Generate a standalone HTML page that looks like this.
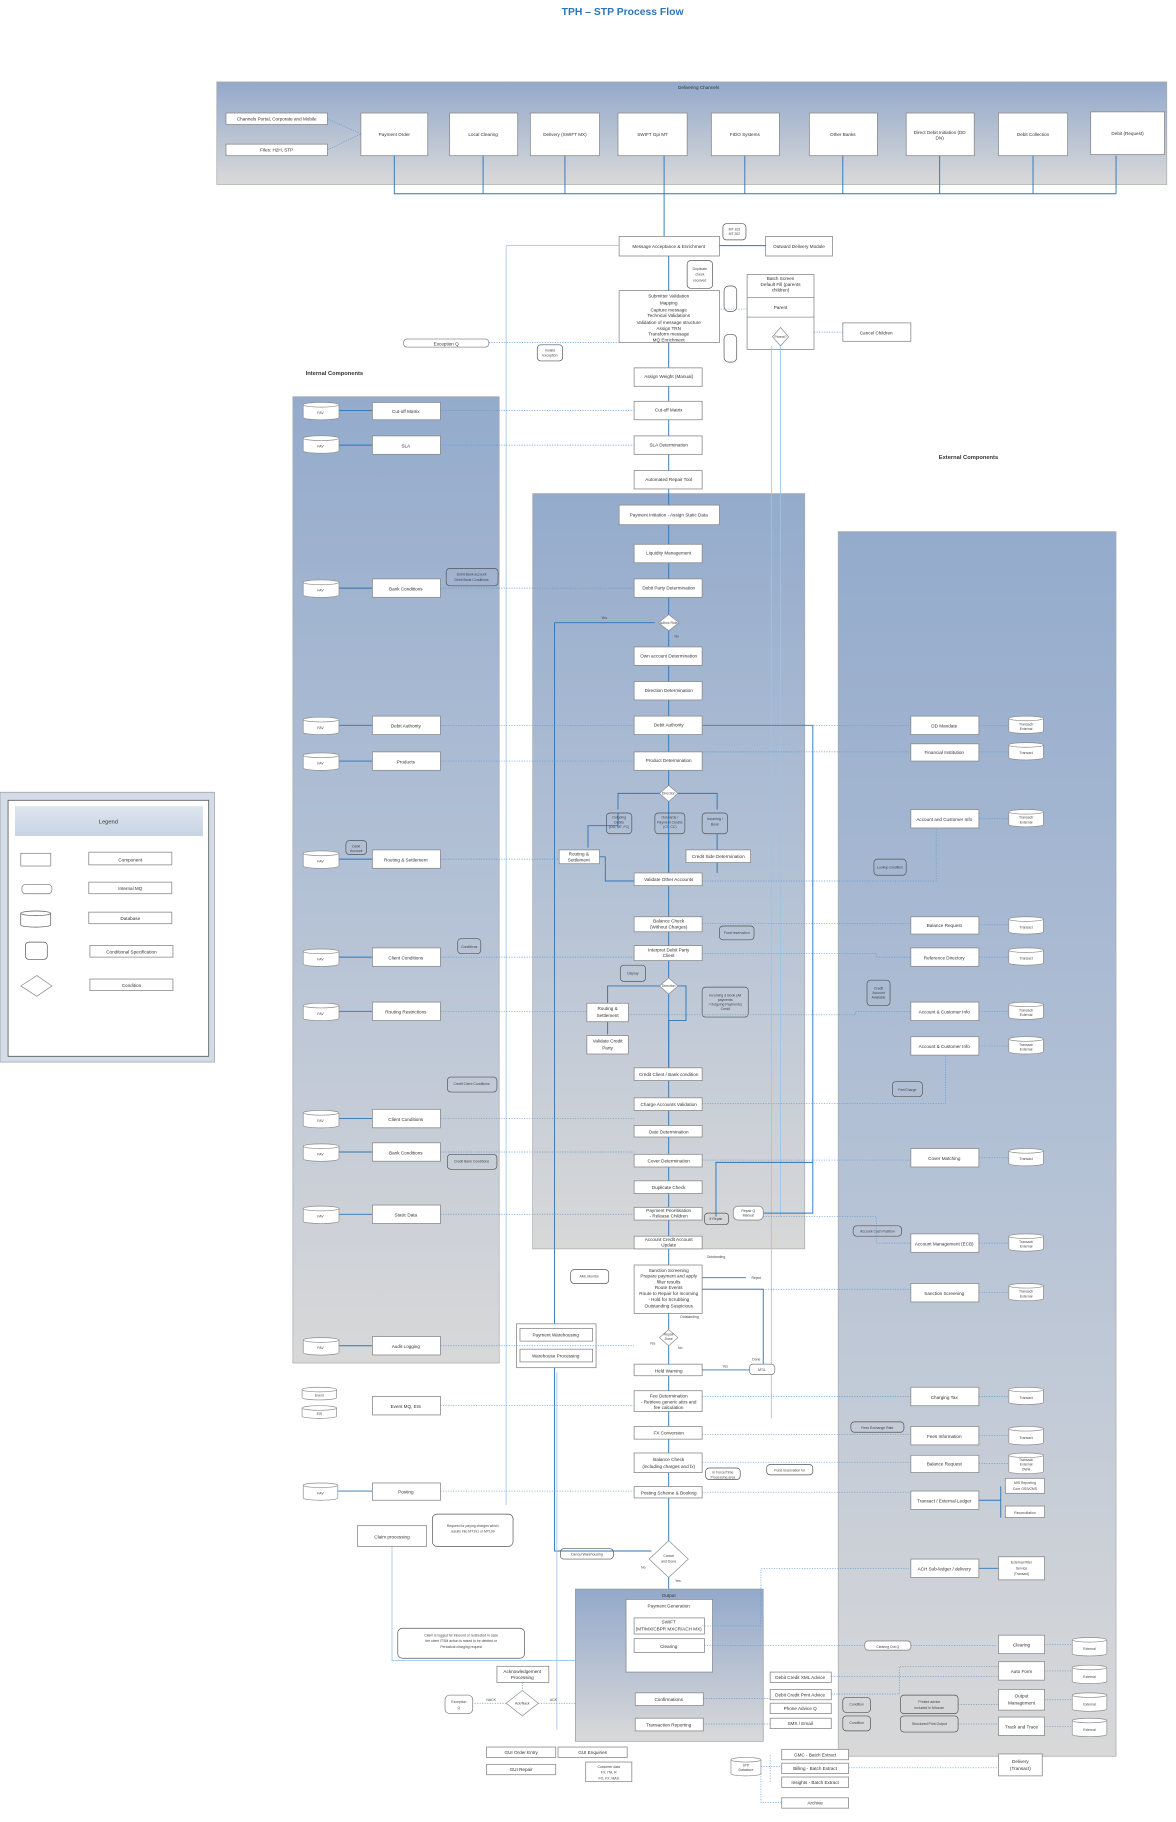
<!DOCTYPE html>
<html><head><meta charset="utf-8">
<style>
html,body{margin:0;padding:0;background:#fff;}
svg{display:block;}
.b{fill:#fff;stroke:#8c8c8c;stroke-width:0.7;}
.t{font-family:"Liberation Sans",sans-serif;font-size:4px;fill:#333;text-anchor:middle;}
.s{font-family:"Liberation Sans",sans-serif;font-size:3px;fill:#444;text-anchor:middle;}
.h{font-family:"Liberation Sans",sans-serif;font-size:5.5px;fill:#222;text-anchor:middle;font-weight:bold;}
.l{stroke:#2e75b6;stroke-width:0.8;fill:none;}
.lt{stroke:#9dc3e6;stroke-width:0.7;fill:none;}
.d{stroke:#5b9bd5;stroke-width:0.6;stroke-dasharray:1,1.2;fill:none;}
.dm{fill:#fff;stroke:#8c8c8c;stroke-width:0.6;}
.br{fill:none;stroke:#555;stroke-width:0.6;}
</style></head>
<body>
<svg width="1176" height="1822" viewBox="0 0 1020 1580" preserveAspectRatio="none" xmlns="http://www.w3.org/2000/svg">
<defs>
<linearGradient id="g" x1="0" y1="0" x2="0" y2="1"><stop offset="0" stop-color="#93a9cb"/><stop offset="1" stop-color="#d9d9d9"/></linearGradient>
<linearGradient id="g2" x1="0" y1="0" x2="0" y2="1"><stop offset="0" stop-color="#94abcc"/><stop offset="0.55" stop-color="#b6c3d6"/><stop offset="1" stop-color="#d8d8d8"/></linearGradient>
<linearGradient id="lg" x1="0" y1="0" x2="0" y2="1"><stop offset="0" stop-color="#dfe6ef"/><stop offset="1" stop-color="#c6d3e3"/></linearGradient>
</defs>

<text x="540" y="13" style="font-family:'Liberation Sans',sans-serif;font-size:9px;font-weight:bold;fill:#2e75b6;text-anchor:middle">TPH – STP Process Flow</text>

<!-- Delivering channels -->
<rect x="188" y="71" width="824" height="89" fill="url(#g)" stroke="#aaa" stroke-width="0.6"/>
<text class="t" x="606" y="77">Delivering Channels</text>
<rect class="b" x="196" y="98" width="88" height="10"/><text class="t" x="240" y="104.5">Channels Portal, Corporate and Mobile</text>
<rect class="b" x="196" y="125" width="88" height="10"/><text class="t" x="240" y="131.5">Files: H2H, STP</text>
<g>
<rect class="b" x="313" y="98" width="58" height="37"/><text class="t" x="342" y="118">Payment Order</text>
<rect class="b" x="390" y="98" width="59" height="37"/><text class="t" x="419" y="118">Local Clearing</text>
<rect class="b" x="460" y="98" width="60" height="37"/><text class="t" x="490" y="118">Delivery (SWIFT MX)</text>
<rect class="b" x="536" y="98" width="60" height="37"/><text class="t" x="566" y="118">SWIFT Gpi MT</text>
<rect class="b" x="617" y="98" width="59" height="37"/><text class="t" x="646" y="118">FIDO Systems</text>
<rect class="b" x="702" y="98" width="59" height="37"/><text class="t" x="731" y="118">Other Banks</text>
<rect class="b" x="786" y="98" width="59" height="37"/><text class="t" x="815" y="116">Direct Debit Initiation (DD</text><text class="t" x="815" y="121">DN)</text>
<rect class="b" x="866" y="98" width="60" height="37"/><text class="t" x="896" y="118">Debit Collection</text>
<rect class="b" x="946" y="97" width="64" height="37"/><text class="t" x="978" y="117">Debit (Request)</text>
</g>
<path class="l" d="M342 135V168H968M419 135V168M490 135V168M646 135V168M731 135V168M815 135V168M896 135V168M968 135V168M576 135V205"/>
<path class="d" d="M284 103L313 116M284 130L313 116"/>

<!-- top central process -->
<rect class="b" x="537" y="205" width="87" height="17"/><text class="t" x="580" y="215">Message Acceptance &amp; Enrichment</text>
<rect class="br" x="627" y="194" width="20" height="14" rx="3"/><text class="s" x="637" y="200">MT 103</text><text class="s" x="637" y="204">MT 202</text>
<rect class="b" x="664" y="205" width="58" height="17"/><text class="t" x="693" y="215">Outward Delivery Module</text>
<path class="l" d="M624 213H664"/>
<rect class="br" x="596" y="226" width="22" height="24" rx="3"/><text class="s" x="607" y="234">Duplicate</text><text class="s" x="607" y="239">check</text><text class="s" x="607" y="244">received</text>
<path class="d" d="M580 222V252"/>
<rect class="b" x="537" y="252" width="87" height="45"/>
<text class="t" x="580" y="258">Submitter Validation</text><text class="t" x="580" y="264">Mapping</text><text class="t" x="580" y="270">Capture message</text><text class="t" x="580" y="275">Technical Validations</text><text class="t" x="580" y="281">Validation of message structure</text><text class="t" x="580" y="286">Assign TRN</text><text class="t" x="580" y="291">Transform message</text><text class="t" x="580" y="296">MQ Enrichment</text>
<rect class="b" x="648" y="238" width="58" height="65"/>
<path stroke="#8c8c8c" stroke-width="0.6" d="M648 258H706M648 275H706"/>
<text class="t" x="677" y="243">Batch Screen</text><text class="t" x="677" y="248">Default Fill (parents</text><text class="t" x="677" y="253">children)</text>
<text class="t" x="677" y="268">Parent</text>
<polygon class="dm" points="677,284 684,292 677,300 670,292"/><text class="s" x="677" y="293">Parent?</text>
<rect class="br" x="628" y="248" width="11" height="22" rx="4"/>
<rect class="br" x="628" y="290" width="11" height="24" rx="4"/>
<rect class="b" x="731" y="280" width="59" height="16"/><text class="t" x="760" y="290">Cancel Children</text>
<path class="d" d="M706 288H731M648 268H624"/>
<rect class="b" x="350" y="294" width="74" height="7" rx="3"/><text class="t" x="387" y="299.5">Exception Q</text>
<path class="d" d="M424 297H537"/>
<rect class="br" x="466" y="299" width="22" height="14" rx="3"/><text class="s" x="477" y="305">Invalid</text><text class="s" x="477" y="309">Exception</text>
<path class="d" d="M580 297V319"/>

<text x="290" y="325" style="font-family:'Liberation Sans',sans-serif;font-size:5px;font-weight:bold;fill:#333;text-anchor:middle">Internal Components</text>
<text x="840" y="398" style="font-family:'Liberation Sans',sans-serif;font-size:5px;font-weight:bold;fill:#333;text-anchor:middle">External Components</text>

<!-- Panels -->
<rect x="254" y="344" width="179" height="838" fill="url(#g2)" stroke="#aaa" stroke-width="0.6"/>
<rect x="462" y="428" width="236" height="655" fill="url(#g2)" stroke="#aaa" stroke-width="0.6"/>
<rect x="727" y="461" width="241" height="1062" fill="url(#g2)" stroke="#aaa" stroke-width="0.6"/>

<!-- long lines -->
<path class="lt" d="M439 213H537M439 213V1305"/>
<path class="l" d="M481 540H568M481 540V1345H565"/>
<path class="lt" d="M483 1190V1500M340 1341V1440H499"/>
<path class="lt" d="M669 300V1230M677 300V1055"/>
<path class="l" d="M580 222V252M580 297V1378"/>
<path class="l" d="M610 629H705V1052H662"/>
<path class="l" d="M621 1055V1008H705"/>

<!-- Central column -->
<g>
<rect class="b" x="550" y="319" width="59" height="16"/><text class="t" x="580" y="328">Assign Weight (Manual)</text>
<rect class="b" x="550" y="348" width="59" height="16"/><text class="t" x="580" y="357">Cut-off Matrix</text>
<rect class="b" x="550" y="378" width="59" height="16"/><text class="t" x="580" y="387">SLA Determination</text>
<rect class="b" x="550" y="408" width="59" height="16"/><text class="t" x="580" y="417">Automated Repair Tool</text>
<rect class="b" x="537" y="438" width="87" height="17"/><text class="t" x="580" y="448">Payment Initiation - Assign Static Data</text>
<rect class="b" x="550" y="472" width="59" height="16"/><text class="t" x="580" y="481">Liquidity Management</text>
<rect class="b" x="550" y="502" width="59" height="16"/><text class="t" x="580" y="511">Debit Party Determination</text>
<polygon class="dm" points="580,533 589,540 580,547 571,540"/><text class="s" x="580" y="541">Adhoc Rule</text>
<text class="s" x="524" y="537">Yes</text><text class="s" x="587" y="553">No</text>
<rect class="b" x="550" y="561" width="59" height="16"/><text class="t" x="580" y="570">Own account Determination</text>
<rect class="b" x="550" y="591" width="59" height="16"/><text class="t" x="580" y="600">Direction Determination</text>
<rect class="b" x="550" y="621" width="59" height="16"/><text class="t" x="580" y="630">Debit Authority</text>
<rect class="b" x="550" y="652" width="59" height="16"/><text class="t" x="580" y="661">Product Determination</text>
<polygon class="dm" points="580,681 588,688 580,695 572,688"/><text class="s" x="580" y="689">Direction</text>
<path class="l" d="M572 688H536V702M588 688H622V702M536 705V716H510V735"/>
<rect class="br" x="526" y="705" width="22" height="18" rx="3"/><text class="s" x="537" y="710">Outgoing</text><text class="s" x="537" y="714">Debits</text><text class="s" x="537" y="718">(DD, MT, FC)</text>
<rect class="br" x="568" y="705" width="26" height="18" rx="3"/><text class="s" x="581" y="710">Outwards /</text><text class="s" x="581" y="714">Payment Credits</text><text class="s" x="581" y="718">(CT, CC)</text>
<rect class="br" x="609" y="705" width="22" height="18" rx="3"/><text class="s" x="620" y="711">Incoming /</text><text class="s" x="620" y="716">Book</text>
<rect class="b" x="485" y="737" width="35" height="12"/><text class="t" x="502" y="742">Routing &amp;</text><text class="t" x="502" y="747">Settlement</text>
<rect class="b" x="595" y="737" width="56" height="11"/><text class="t" x="623" y="744">Credit Side Determination</text>
<path class="l" d="M520 743H525V764H550M622 723V737M580 723V757M622 748V757"/>
<rect class="b" x="550" y="757" width="59" height="11"/><text class="t" x="580" y="764">Validate Other Accounts</text>
<rect class="b" x="550" y="795" width="59" height="13"/><text class="t" x="580" y="800">Balance Check</text><text class="t" x="580" y="805">(Without Charges)</text>
<rect class="br" x="624" y="803" width="30" height="12" rx="3"/><text class="s" x="639" y="810">Fund reservation</text>
<rect class="b" x="550" y="820" width="59" height="13"/><text class="t" x="580" y="825">Interpret Debit Party</text><text class="t" x="580" y="830">Client</text>
<rect class="br" x="538" y="837" width="22" height="14" rx="3"/><text class="s" x="549" y="845">Display</text>
<polygon class="dm" points="580,848 588,855 580,862 572,855"/><text class="s" x="580" y="856">Direction</text>
<path class="l" d="M572 855H527V870M588 855H595V885H580V926M527 882V897"/>
<rect class="br" x="609" y="856" width="40" height="26" rx="3"/><text class="s" x="629" y="864">Incoming &amp; Book (All</text><text class="s" x="629" y="868">payments</text><text class="s" x="629" y="872">/ Outgoing Payments)</text><text class="s" x="629" y="876">Credit</text>
<rect class="b" x="509" y="870" width="36" height="16"/><text class="t" x="527" y="876">Routing &amp;</text><text class="t" x="527" y="882">Settlement</text>
<rect class="b" x="509" y="898" width="36" height="16"/><text class="t" x="527" y="904">Validate Credit</text><text class="t" x="527" y="910">Party</text>
<rect class="b" x="550" y="926" width="59" height="11"/><text class="t" x="580" y="933">Credit Client / Bank condition</text>
<rect class="b" x="550" y="952" width="59" height="11"/><text class="t" x="580" y="959">Charge Accounts Validation</text>
<rect class="b" x="550" y="976" width="59" height="10"/><text class="t" x="580" y="983">Date Determination</text>
<rect class="b" x="550" y="1001" width="59" height="11"/><text class="t" x="580" y="1008">Cover Determination</text>
<rect class="b" x="550" y="1024" width="59" height="11"/><text class="t" x="580" y="1031">Duplicate Check</text>
<rect class="b" x="550" y="1047" width="59" height="11"/><text class="t" x="580" y="1051">Payment Prioritisation</text><text class="t" x="580" y="1056">- Release Children</text>
<rect class="br" x="611" y="1052" width="21" height="10" rx="3"/><text class="s" x="621" y="1058">If Repair</text>
<rect class="b" x="636" y="1046" width="26" height="12" rx="4"/><text class="s" x="649" y="1051">Repair Q</text><text class="s" x="649" y="1055">Manual</text>
<rect class="b" x="550" y="1072" width="59" height="11"/><text class="t" x="580" y="1076">Account Credit Account</text><text class="t" x="580" y="1081">Update</text>
<text class="s" x="621" y="1091">Outstanding</text>
<rect class="b" x="550" y="1097" width="59" height="42"/>
<text class="t" x="580" y="1103">Sanction Screening</text><text class="t" x="580" y="1108">Prepare payment and apply</text><text class="t" x="580" y="1113">filter results</text><text class="t" x="580" y="1118">Route Events</text><text class="t" x="580" y="1123">Route to Repair for Incoming</text><text class="t" x="580" y="1128">- Hold for Scrubbing</text><text class="t" x="580" y="1134">Outstanding Suspicious</text>
<rect class="br" x="495" y="1101" width="33" height="12" rx="3"/><text class="s" x="511" y="1108">AML Monitor</text>
<path class="l" d="M609 1118H662V1190M609 1108H647"/>
<text class="s" x="656" y="1109">Reject</text><text class="s" x="598" y="1143">Outstanding</text>
<polygon class="dm" points="580,1153 588,1160 580,1167 572,1160"/><text class="s" x="580" y="1158">Repair</text><text class="s" x="580" y="1162">Done</text>
<text class="s" x="566" y="1166">Yes</text><text class="s" x="590" y="1170">No</text>
<rect class="b" x="550" y="1183" width="59" height="10"/><text class="t" x="580" y="1190">Held Warning</text>
<rect class="b" x="650" y="1183" width="22" height="9" rx="3"/><text class="s" x="661" y="1189">MT/L</text>
<text class="s" x="629" y="1186">Yes</text><text class="s" x="656" y="1180">Done</text>
<path class="l" d="M609 1188H650"/>
<rect class="b" x="550" y="1206" width="59" height="18"/><text class="t" x="580" y="1212">Fee Determination</text><text class="t" x="580" y="1217">- Retrieve generic attrs and</text><text class="t" x="580" y="1222">fee calculation</text>
<rect class="b" x="550" y="1237" width="59" height="11"/><text class="t" x="580" y="1244">FX Conversion</text>
<rect class="b" x="550" y="1260" width="59" height="17"/><text class="t" x="580" y="1267">Balance Check</text><text class="t" x="580" y="1273">(including charges and fx)</text>
<rect class="br" x="612" y="1273" width="30" height="10" rx="3"/><text class="s" x="627" y="1278">In Force/Time</text><text class="s" x="627" y="1282">Processing area</text>
<rect class="br" x="665" y="1270" width="40" height="9" rx="3"/><text class="s" x="685" y="1276">Fund reservation for</text>
<rect class="b" x="550" y="1289" width="59" height="10"/><text class="t" x="580" y="1296">Posting Scheme &amp; Booking</text>
<polygon class="dm" points="580,1336 597,1352 580,1368 563,1352"/><text class="s" x="580" y="1350">Cancel</text><text class="s" x="580" y="1355">and Done</text>
<text class="s" x="558" y="1360">No</text><text class="s" x="588" y="1372">Yes</text>
<rect class="br" x="486" y="1343" width="46" height="9" rx="3"/><text class="s" x="509" y="1349">Cancel Warehousing</text>
</g>

<!-- Output -->
<rect x="499" y="1378" width="163" height="132" fill="url(#g)" stroke="#999" stroke-width="0.6"/>
<text class="t" x="580" y="1385">Output</text>
<rect class="b" x="543" y="1387" width="75" height="63"/>
<text class="t" x="580" y="1394">Payment Generation</text>
<rect class="b" x="550" y="1403" width="61" height="14"/><text class="t" x="580" y="1408">SWIFT</text><text class="t" x="580" y="1414">(MT/MX/CBPR MXCR/ACH MX)</text>
<rect class="b" x="550" y="1421" width="61" height="12"/><text class="t" x="580" y="1429">Clearing</text>
<rect class="b" x="551" y="1468" width="59" height="11"/><text class="t" x="580" y="1475">Confirmations</text>
<rect class="b" x="551" y="1490" width="59" height="11"/><text class="t" x="580" y="1497">Transaction Reporting</text>

<!-- Payment warehousing -->
<rect class="b" x="448" y="1148" width="69" height="38"/>
<rect class="b" x="451" y="1152" width="63" height="11"/><text class="t" x="482" y="1159">Payment Warehousing</text>
<rect class="b" x="451" y="1170" width="63" height="11"/><text class="t" x="482" y="1177">Warehouse Processing</text>

<!-- Internal components -->
<g>
<path class="l" d="M294 356H323M294 386H323M294 510H323M294 629H323M294 660H323M294 745H323M294 830H323M294 877H323M294 970H323M294 999H323M294 1053H323M294 1167H323M293 1293H323"/>
<path class="d" d="M382 356H550M382 386H550M382 510H550M382 629H550M382 660H550M382 745H485M382 830H550M382 877H509M382 970H550M382 999H550M382 1053H550M382 1167H550M382 1219H550M382 1293H550"/>
<g id="cyls">
</g>
<rect class="b" x="323" y="349" width="59" height="15"/><text class="t" x="352" y="358">Cut-off Matrix</text>
<rect class="b" x="323" y="378" width="59" height="16"/><text class="t" x="352" y="388">SLA</text>
<rect class="b" x="323" y="502" width="59" height="16"/><text class="t" x="352" y="512">Bank Conditions</text>
<rect class="br" x="387" y="493" width="45" height="15" rx="3"/><text class="s" x="409" y="499">Debit Bank account</text><text class="s" x="409" y="504">Debit Bank Conditions</text>
<rect class="b" x="323" y="621" width="59" height="16"/><text class="t" x="352" y="631">Debit Authority</text>
<rect class="b" x="323" y="652" width="59" height="16"/><text class="t" x="352" y="662">Products</text>
<rect class="b" x="323" y="737" width="59" height="16"/><text class="t" x="352" y="747">Routing &amp; Settlement</text>
<rect class="br" x="300" y="729" width="18" height="12" rx="3"/><text class="s" x="309" y="735">Debit</text><text class="s" x="309" y="739">Account</text>
<rect class="b" x="323" y="822" width="59" height="16"/><text class="t" x="352" y="832">Client Conditions</text>
<rect class="br" x="397" y="814" width="20" height="13" rx="3"/><text class="s" x="407" y="822">Conditions</text>
<rect class="b" x="323" y="869" width="59" height="16"/><text class="t" x="352" y="879">Routing Restrictions</text>
<rect class="br" x="388" y="934" width="43" height="13" rx="3"/><text class="s" x="409" y="941">Credit Client Conditions</text>
<rect class="b" x="323" y="962" width="59" height="16"/><text class="t" x="352" y="972">Client Conditions</text>
<rect class="b" x="323" y="991" width="59" height="16"/><text class="t" x="352" y="1001">Bank Conditions</text>
<rect class="br" x="388" y="1001" width="43" height="13" rx="3"/><text class="s" x="409" y="1008">Credit Bank Conditions</text>
<rect class="b" x="323" y="1045" width="59" height="16"/><text class="t" x="352" y="1055">Static Data</text>
<rect class="b" x="323" y="1159" width="59" height="16"/><text class="t" x="352" y="1169">Audit Logging</text>
<rect class="b" x="323" y="1211" width="59" height="16"/><text class="t" x="352" y="1221">Event MQ, EIS</text>
<rect class="b" x="323" y="1286" width="59" height="15"/><text class="t" x="352" y="1295">Posting</text>
<rect class="b" x="310" y="1323" width="60" height="18"/><text class="t" x="340" y="1334">Claim processing</text>
<rect class="br" x="375" y="1313" width="70" height="28" rx="4"/><text class="s" x="410" y="1324">Request for paying charges which</text><text class="s" x="410" y="1329">results into MT191 or MT199</text>
<rect class="br" x="345" y="1412" width="110" height="26" rx="4"/><text class="s" x="400" y="1419">Claim is logged for inbound or redirected in case</text><text class="s" x="400" y="1424">the client ITSM action is raised to be debited or</text><text class="s" x="400" y="1429">Periodical charging request</text>
</g>

<!-- cylinders -->
<g fill="#fff" stroke="#8c8c8c" stroke-width="0.6">
<path d="M263 351v11a15 2 0 0 0 31 0v-11a15 2 0 0 0-31 0a15 2 0 0 0 31 0"/>
<path d="M263 380v11a15 2 0 0 0 31 0v-11a15 2 0 0 0-31 0a15 2 0 0 0 31 0"/>
<path d="M263 505v11a15 2 0 0 0 31 0v-11a15 2 0 0 0-31 0a15 2 0 0 0 31 0"/>
<path d="M263 624v11a15 2 0 0 0 31 0v-11a15 2 0 0 0-31 0a15 2 0 0 0 31 0"/>
<path d="M263 655v11a15 2 0 0 0 31 0v-11a15 2 0 0 0-31 0a15 2 0 0 0 31 0"/>
<path d="M263 740v11a15 2 0 0 0 31 0v-11a15 2 0 0 0-31 0a15 2 0 0 0 31 0"/>
<path d="M263 825v11a15 2 0 0 0 31 0v-11a15 2 0 0 0-31 0a15 2 0 0 0 31 0"/>
<path d="M263 872v11a15 2 0 0 0 31 0v-11a15 2 0 0 0-31 0a15 2 0 0 0 31 0"/>
<path d="M263 965v11a15 2 0 0 0 31 0v-11a15 2 0 0 0-31 0a15 2 0 0 0 31 0"/>
<path d="M263 994v11a15 2 0 0 0 31 0v-11a15 2 0 0 0-31 0a15 2 0 0 0 31 0"/>
<path d="M263 1048v11a15 2 0 0 0 31 0v-11a15 2 0 0 0-31 0a15 2 0 0 0 31 0"/>
<path d="M263 1162v11a15 2 0 0 0 31 0v-11a15 2 0 0 0-31 0a15 2 0 0 0 31 0"/>
<path d="M262 1205v7a15 2 0 0 0 30 0v-7a15 2 0 0 0-30 0a15 2 0 0 0 30 0"/>
<path d="M262 1221v7a15 2 0 0 0 30 0v-7a15 2 0 0 0-30 0a15 2 0 0 0 30 0"/>
<path d="M263 1288v11a15 2 0 0 0 30 0v-11a15 2 0 0 0-30 0a15 2 0 0 0 30 0"/>
<path d="M875 623v11a15 2 0 0 0 30 0v-11a15 2 0 0 0-30 0a15 2 0 0 0 30 0"/>
<path d="M875 646v11a15 2 0 0 0 30 0v-11a15 2 0 0 0-30 0a15 2 0 0 0 30 0"/>
<path d="M875 704v11a15 2 0 0 0 30 0v-11a15 2 0 0 0-30 0a15 2 0 0 0 30 0"/>
<path d="M875 797v11a15 2 0 0 0 30 0v-11a15 2 0 0 0-30 0a15 2 0 0 0 30 0"/>
<path d="M875 824v11a15 2 0 0 0 30 0v-11a15 2 0 0 0-30 0a15 2 0 0 0 30 0"/>
<path d="M875 871v11a15 2 0 0 0 30 0v-11a15 2 0 0 0-30 0a15 2 0 0 0 30 0"/>
<path d="M875 901v11a15 2 0 0 0 30 0v-11a15 2 0 0 0-30 0a15 2 0 0 0 30 0"/>
<path d="M875 998v11a15 2 0 0 0 30 0v-11a15 2 0 0 0-30 0a15 2 0 0 0 30 0"/>
<path d="M875 1072v11a15 2 0 0 0 30 0v-11a15 2 0 0 0-30 0a15 2 0 0 0 30 0"/>
<path d="M875 1115v11a15 2 0 0 0 30 0v-11a15 2 0 0 0-30 0a15 2 0 0 0 30 0"/>
<path d="M875 1205v11a15 2 0 0 0 30 0v-11a15 2 0 0 0-30 0a15 2 0 0 0 30 0"/>
<path d="M875 1239v12a15 2 0 0 0 30 0v-12a15 2 0 0 0-30 0a15 2 0 0 0 30 0"/>
<path d="M875 1262v14a15 2 0 0 0 30 0v-14a15 2 0 0 0-30 0a15 2 0 0 0 30 0"/>
<path d="M930 1422v12a15 2 0 0 0 30 0v-12a15 2 0 0 0-30 0a15 2 0 0 0 30 0"/>
<path d="M930 1446v12a15 2 0 0 0 30 0v-12a15 2 0 0 0-30 0a15 2 0 0 0 30 0"/>
<path d="M930 1470v12a15 2 0 0 0 30 0v-12a15 2 0 0 0-30 0a15 2 0 0 0 30 0"/>
<path d="M930 1492v12a15 2 0 0 0 30 0v-12a15 2 0 0 0-30 0a15 2 0 0 0 30 0"/>
<path d="M634 1526v12a13 2 0 0 0 26 0v-12a13 2 0 0 0-26 0a13 2 0 0 0 26 0"/>
</g>
<g class="s">
<text x="278" y="359">FAV</text><text x="278" y="388">FAV</text><text x="278" y="513">FAV</text><text x="278" y="632">FAV</text><text x="278" y="663">FAV</text><text x="278" y="748">FAV</text><text x="278" y="833">FAV</text><text x="278" y="880">FAV</text><text x="278" y="973">FAV</text><text x="278" y="1002">FAV</text><text x="278" y="1056">FAV</text><text x="278" y="1170">FAV</text><text x="277" y="1211">Event</text><text x="277" y="1227">EIS</text><text x="278" y="1296">FAV</text>
<text x="890" y="629">Transact/</text><text x="890" y="633">External</text><text x="890" y="654">Transact</text><text x="890" y="710">Transact/</text><text x="890" y="714">External</text><text x="890" y="805">Transact</text><text x="890" y="832">Transact</text><text x="890" y="877">Transact/</text><text x="890" y="881">External</text><text x="890" y="907">Transact/</text><text x="890" y="911">External</text><text x="890" y="1006">Transact</text><text x="890" y="1078">Transact/</text><text x="890" y="1082">External</text><text x="890" y="1121">Transact/</text><text x="890" y="1125">External</text><text x="890" y="1213">Transact</text><text x="890" y="1248">Transact</text><text x="890" y="1267">Transact/</text><text x="890" y="1271">External</text><text x="890" y="1275">DWH</text>
<text x="945" y="1431">External</text><text x="945" y="1455">External</text><text x="945" y="1479">External</text><text x="945" y="1501">External</text><text x="647" y="1532">STP</text><text x="647" y="1536">Datastore</text>
</g>

<!-- External components -->
<g>
<path class="d" d="M609 629H790M609 652H790M609 764H812V718M609 801H790M609 827H760V830H790M545 880H742V877H790M609 957H820V915M609 1006H790M662 1055H760V1078H790M609 1118H790M609 1211H790M609 1244H790M609 1268H790M609 1294H790M609 1410H660V1360H790M611 1427H750M790 1427H865M849 629H875M849 652H875M849 710H875M849 802H875M849 830H875M849 877H875M849 907H875M849 1004H875M849 1078H875M849 1121H875M849 1211H875M849 1245H875M849 1269H875"/>
<path class="l" d="M849 1301H868M868 1289V1316M849 1360H866"/>
<rect class="b" x="790" y="621" width="59" height="16"/><text class="t" x="819" y="631">DD Mandate</text>
<rect class="b" x="790" y="645" width="59" height="15"/><text class="t" x="819" y="654">Financial Institution</text>
<rect class="b" x="790" y="702" width="59" height="16"/><text class="t" x="819" y="712">Account and Customer Info</text>
<rect class="br" x="758" y="745" width="28" height="14" rx="3"/><text class="s" x="772" y="753">Lookup condition</text>
<rect class="b" x="790" y="795" width="59" height="15"/><text class="t" x="819" y="804">Balance Request</text>
<rect class="b" x="790" y="822" width="59" height="16"/><text class="t" x="819" y="832">Reference Directory</text>
<rect class="br" x="752" y="850" width="20" height="22" rx="3"/><text class="s" x="762" y="858">Credit</text><text class="s" x="762" y="862">Account</text><text class="s" x="762" y="866">Available</text>
<rect class="b" x="790" y="869" width="59" height="16"/><text class="t" x="819" y="879">Account &amp; Customer Info</text>
<rect class="b" x="790" y="899" width="59" height="16"/><text class="t" x="819" y="909">Account &amp; Customer Info</text>
<rect class="br" x="774" y="938" width="26" height="13" rx="3"/><text class="s" x="787" y="946">Fee/Charge</text>
<rect class="b" x="790" y="996" width="59" height="16"/><text class="t" x="819" y="1006">Cover Matching</text>
<rect class="br" x="740" y="1063" width="42" height="9" rx="3"/><text class="s" x="761" y="1069">Account Cash Position</text>
<rect class="b" x="790" y="1070" width="59" height="16"/><text class="t" x="819" y="1080">Account Management (ECB)</text>
<rect class="b" x="790" y="1113" width="59" height="16"/><text class="t" x="819" y="1123">Sanction Screening</text>
<rect class="b" x="790" y="1203" width="59" height="16"/><text class="t" x="819" y="1213">Charging Tax</text>
<rect class="br" x="738" y="1233" width="46" height="9" rx="3"/><text class="s" x="761" y="1239">Fees Exchange Rate</text>
<rect class="b" x="790" y="1237" width="59" height="16"/><text class="t" x="819" y="1247">Fees Information</text>
<rect class="b" x="790" y="1262" width="59" height="15"/><text class="t" x="819" y="1271">Balance Request</text>
<rect class="b" x="872" y="1282" width="34" height="13"/><text class="s" x="889" y="1287">MIS Reporting</text><text class="s" x="889" y="1292">Core OSS/CMS</text>
<rect class="b" x="790" y="1293" width="59" height="16"/><text class="t" x="819" y="1303">Transact / External Ledger</text>
<rect class="b" x="872" y="1306" width="34" height="10"/><text class="s" x="889" y="1313">Reconciliation</text>
<rect class="b" x="790" y="1352" width="59" height="16"/><text class="t" x="819" y="1362">ACH Sub-ledger / delivery</text>
<rect class="b" x="866" y="1350" width="40" height="20"/><text class="s" x="886" y="1356">External Filter</text><text class="s" x="886" y="1361">Service</text><text class="s" x="886" y="1366">(Transact)</text>
<rect class="b" x="750" y="1423" width="40" height="8" rx="3"/><text class="s" x="770" y="1429">Clearing Out Q</text>
<rect class="b" x="866" y="1418" width="40" height="16"/><text class="t" x="886" y="1428">Clearing</text>
<rect class="b" x="866" y="1441" width="40" height="16"/><text class="t" x="886" y="1451">Auto Form</text>
<rect class="b" x="866" y="1465" width="40" height="18"/><text class="t" x="886" y="1472">Output</text><text class="t" x="886" y="1478">Management</text>
<rect class="b" x="866" y="1489" width="40" height="16"/><text class="t" x="886" y="1499">Track and Trace</text>
<path class="d" d="M906 1426H930M906 1449H930M906 1474H930M906 1497H930"/>
<rect class="b" x="668" y="1450" width="53" height="9"/><text class="t" x="694" y="1456">Debit Credit XML Advice</text>
<rect class="b" x="668" y="1465" width="53" height="9"/><text class="t" x="694" y="1471">Debit Credit Print Advice</text>
<rect class="b" x="668" y="1477" width="53" height="9"/><text class="t" x="694" y="1483">Phone Advice Q</text>
<rect class="b" x="668" y="1490" width="53" height="9"/><text class="t" x="694" y="1496">SMS / Email</text>
<rect class="br" x="731" y="1472" width="24" height="13" rx="3"/><text class="s" x="743" y="1479">Condition</text>
<rect class="br" x="731" y="1488" width="24" height="13" rx="3"/><text class="s" x="743" y="1495">Condition</text>
<rect class="br" x="781" y="1470" width="50" height="16" rx="3"/><text class="s" x="806" y="1477">Printed advice</text><text class="s" x="806" y="1482">included in Mhouse</text>
<rect class="br" x="781" y="1488" width="50" height="14" rx="3"/><text class="s" x="806" y="1496">Structured Print Output</text>
<path class="d" d="M610 1473H668M610 1495H668M721 1454H865M721 1469H780V1445H866M831 1478H866M831 1495H866"/>
</g>

<!-- bottom left of output -->
<rect class="b" x="431" y="1445" width="45" height="14"/><text class="t" x="453" y="1451">Acknowledgement</text><text class="t" x="453" y="1456">Processing</text>
<polygon class="dm" points="453,1466 467,1477 453,1488 439,1477"/><text class="s" x="453" y="1478">Ack/Nack</text>
<rect class="b" x="386" y="1470" width="24" height="16" rx="4"/><text class="s" x="398" y="1477">Exception</text><text class="s" x="398" y="1482">Q</text>
<text class="s" x="426" y="1475">NACK</text><text class="s" x="480" y="1475">ACK</text>
<path class="d" d="M439 1477H410M467 1477H499M453 1459V1466"/>
<rect class="b" x="422" y="1515" width="60" height="9"/><text class="t" x="452" y="1521">GUI Order Entry</text>
<rect class="b" x="484" y="1515" width="60" height="9"/><text class="t" x="514" y="1521">GUI Enquiries</text>
<rect class="b" x="422" y="1530" width="60" height="9"/><text class="t" x="452" y="1536">GUI Repair</text>
<rect class="b" x="508" y="1528" width="40" height="17"/><text class="s" x="528" y="1533">Customer data</text><text class="s" x="528" y="1538">FX, ITA, R</text><text class="s" x="528" y="1543">FO, FX, MAS</text>
<rect class="b" x="678" y="1517" width="58" height="9"/><text class="t" x="707" y="1523">GMC - Batch Extract</text>
<rect class="b" x="678" y="1529" width="58" height="9"/><text class="t" x="707" y="1535">Billing - Batch Extract</text>
<rect class="b" x="678" y="1541" width="58" height="9"/><text class="t" x="707" y="1547">Insights - Batch Extract</text>
<rect class="b" x="678" y="1559" width="58" height="9"/><text class="t" x="707" y="1565">Archive</text>
<rect class="b" x="866" y="1521" width="38" height="19"/><text class="t" x="885" y="1529">Delivery</text><text class="t" x="885" y="1535">(Transact)</text>
<path class="d" d="M660 1532H678M668 1522V1546M660 1538V1563H678M736 1533H866"/>

<!-- Legend -->
<rect x="0" y="687" width="186" height="234" fill="#d3dce8" stroke="#999" stroke-width="0.6"/>
<rect x="7" y="694" width="174" height="222" fill="#fff" stroke="#555" stroke-width="0.7"/>
<rect x="13" y="699" width="163" height="26" fill="url(#lg)"/>
<text class="t" x="94" y="714" style="font-size:5px">Legend</text>
<rect class="b" x="18" y="740" width="26" height="11"/>
<rect class="b" x="77" y="739" width="72" height="11"/><text class="t" x="113" y="747">Component</text>
<rect class="b" x="19" y="767" width="26" height="8" rx="3"/>
<rect class="b" x="77" y="765" width="72" height="10"/><text class="t" x="113" y="772">Internal MQ</text>
<path fill="#fff" stroke="#555" stroke-width="0.6" d="M18 792v10a13 2 0 0 0 26 0v-10a13 2 0 0 0-26 0a13 2 0 0 0 26 0"/>
<rect class="b" x="77" y="791" width="72" height="10"/><text class="t" x="113" y="798">Database</text>
<rect class="br" x="22" y="817" width="19" height="15" rx="3"/>
<rect class="b" x="78" y="820" width="72" height="10"/><text class="t" x="114" y="827">Conditional Specification</text>
<polygon class="dm" points="32,846 45,855 32,864 18,855"/>
<rect class="b" x="78" y="849" width="72" height="10"/><text class="t" x="114" y="856">Condition</text>
</svg>
</body></html>
